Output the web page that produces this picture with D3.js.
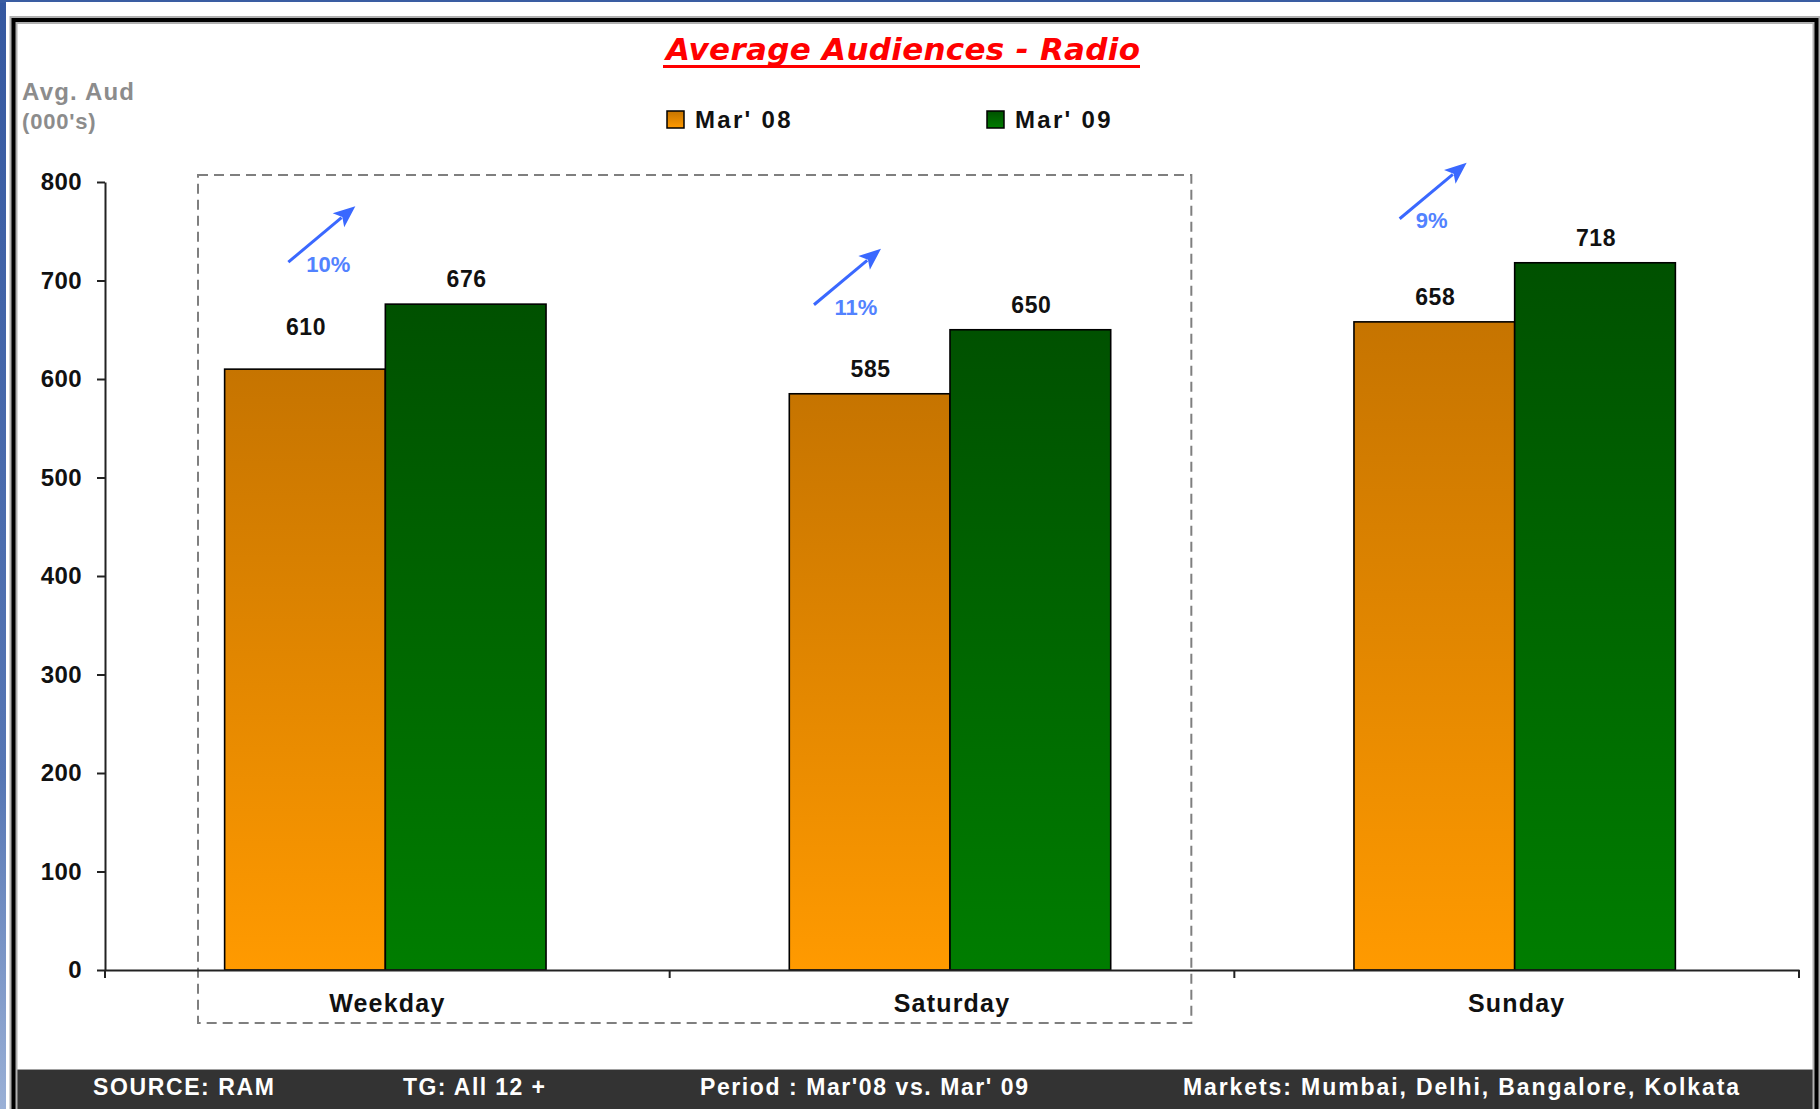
<!DOCTYPE html>
<html>
<head>
<meta charset="utf-8">
<script src="https://cdn.jsdelivr.net/npm/d3@7"></script>
<style>
  html, body { margin: 0; padding: 0; background: #ffffff; }
  svg { display: block; }
</style>
</head>
<body>
<svg id="chart" width="1820" height="1109"></svg>
<script>
// ---------------- data ----------------
const categories = ["Weekday", "Saturday", "Sunday"];
const seriesNames = ["Mar' 08", "Mar' 09"];
const mar08 = [610, 585, 658];
const mar09 = [676, 650, 718];
const growthLabels = ["10%", "11%", "9%"];
const yTicks = [0, 100, 200, 300, 400, 500, 600, 700, 800];
const titleText = "Average Audiences - Radio";
const yTitle = ["Avg. Aud", "(000's)"];
const footerNotes = ["SOURCE: RAM", "TG: All 12 +", "Period : Mar'08 vs. Mar' 09", "Markets: Mumbai, Delhi, Bangalore, Kolkata"];

// ---------------- layout / style ----------------
const W = 1820, H = 1109;
const plot = { left: 105, right: 1799, top: 182, bottom: 970 };
const FONT = "'Liberation Sans', Arial, sans-serif";
const arrowLayout = [ // offsets from group centre / Mar'09 bar top
  { sx: -99, sy: -42, lx: -59, ly: -40 },
  { sx: -138, sy: -25, lx: -96, ly: -22 },
  { sx: -117, sy: -44, lx: -85, ly: -42 }
];
const arrowVec = { dx: 67, dy: -56 };
const labelLift = { "Weekday|Mar' 08": 34 };
const footerLayout = [ { x: 93, w: 181 }, { x: 403, w: 142 }, { x: 700, w: 328 }, { x: 1183, w: 556 } ];

const svg = d3.select("#chart");
const defs = svg.append("defs");

function vGrad(id, stops) {
  const g = defs.append("linearGradient").attr("id", id)
    .attr("x1", 0).attr("y1", 0).attr("x2", 0).attr("y2", 1);
  stops.forEach(s => g.append("stop").attr("offset", s[0]).attr("stop-color", s[1]));
}
vGrad("gOrange", [[0, "#C67400"], [1, "#FF9A00"]]);
vGrad("gGreen", [[0, "#005100"], [1, "#007D00"]]);
vGrad("gBlue", [[0, "#3558A0"], [0.7, "#5676B4"], [1, "#9AB0D6"]]);
const seriesFill = { "Mar' 08": "url(#gOrange)", "Mar' 09": "url(#gGreen)" };

// ---------------- frame ----------------
svg.append("rect").attr("x", 0).attr("y", 0).attr("width", W).attr("height", H).attr("fill", "url(#gBlue)");
svg.append("rect").attr("x", 0).attr("y", 0).attr("width", W).attr("height", 3).attr("fill", "#3A5DA2");
svg.append("rect").attr("x", 6).attr("y", 2).attr("width", W - 6).attr("height", H - 2).attr("fill", "#ffffff");
// footer bar
svg.append("rect").attr("x", 14).attr("y", 1069).attr("width", 1802).attr("height", 40).attr("fill", "#333333");
svg.append("line").attr("x1", 14).attr("x2", 1816).attr("y1", 1069.5).attr("y2", 1069.5)
  .attr("stroke", "#a0a0a0").attr("stroke-width", 1);
// black border with soft shadow
const borderPath = `M13.5,${H} L13.5,20 L1816.5,20 L1816.5,${H}`;
svg.append("path").attr("d", borderPath).attr("fill", "none").attr("stroke", "#b0b0b0").attr("stroke-width", 8);
svg.append("path").attr("d", borderPath).attr("fill", "none").attr("stroke", "#000000").attr("stroke-width", 4);

// ---------------- scales ----------------
const y = d3.scaleLinear().domain([0, 800]).range([plot.bottom, plot.top]);
const x0 = d3.scaleBand().domain(categories).range([plot.left, plot.right]).padding(0);
const bw = x0.bandwidth();
const barW = bw * 0.2846;
const x1 = d3.scaleBand().domain(seriesNames).range([bw / 2 - barW - 2, bw / 2 + barW - 2]).padding(0);

const rows = categories.map((c, i) => ({ cat: c, values: [mar08[i], mar09[i]], growth: growthLabels[i] }));

// ---------------- dashed highlight box ----------------
const boxL = x0("Weekday") + 93, boxR = x0("Saturday") + bw - 43;
svg.append("rect")
  .attr("x", boxL).attr("y", plot.top - 7)
  .attr("width", boxR - boxL).attr("height", (plot.bottom + 53) - (plot.top - 7))
  .attr("fill", "none").attr("stroke", "#7f7f7f").attr("stroke-width", 2)
  .attr("stroke-dasharray", "10,6");

// ---------------- bars ----------------
const groups = svg.append("g").selectAll("g").data(rows).join("g")
  .attr("transform", d => `translate(${x0(d.cat)},0)`);
groups.selectAll("rect").data(d => d.values.map((v, j) => ({ cat: d.cat, s: seriesNames[j], v })))
  .join("rect")
  .attr("x", d => x1(d.s)).attr("width", x1.bandwidth())
  .attr("y", d => y(d.v)).attr("height", d => y(0) - y(d.v))
  .attr("fill", d => seriesFill[d.s])
  .attr("stroke", "#000").attr("stroke-width", 1.6);

groups.selectAll("text.val").data(d => d.values.map((v, j) => ({ cat: d.cat, s: seriesNames[j], v })))
  .join("text").attr("class", "val")
  .attr("x", d => x1(d.s) + x1.bandwidth() / 2 + 1)
  .attr("y", d => y(d.v) - (labelLift[d.cat + "|" + d.s] || 17))
  .attr("text-anchor", "middle")
  .attr("font-family", FONT).attr("font-weight", "bold").attr("font-size", 23)
  .attr("letter-spacing", 0.6).attr("fill", "#111")
  .text(d => d.v);

// ---------------- axes ----------------
const yAxis = svg.append("g").attr("transform", `translate(${plot.left},0)`)
  .call(d3.axisLeft(y).tickValues(yTicks).tickSize(8).tickSizeOuter(0).tickPadding(15));
yAxis.select(".domain").attr("stroke", "#222").attr("stroke-width", 2);
yAxis.selectAll(".tick line").attr("stroke", "#222").attr("stroke-width", 2);
yAxis.selectAll(".tick text").attr("font-family", FONT).attr("font-weight", "bold")
  .attr("font-size", 24).attr("letter-spacing", 0.4).attr("fill", "#111");

const xAxis = svg.append("g").attr("transform", `translate(0,${plot.bottom})`)
  .call(d3.axisBottom(x0).tickSize(0).tickSizeOuter(0).tickPadding(0));
xAxis.select(".domain").attr("stroke", "#222").attr("stroke-width", 2);
xAxis.selectAll(".tick text").attr("y", 42).attr("dy", 0)
  .attr("font-family", FONT).attr("font-weight", "bold").attr("font-size", 25)
  .attr("letter-spacing", 1.2).attr("fill", "#111");
// band boundary ticks
const bounds = categories.map(c => x0(c)).concat([x0(categories[categories.length - 1]) + bw]);
svg.append("g").selectAll("line").data(bounds).join("line")
  .attr("x1", d => d).attr("x2", d => d)
  .attr("y1", plot.bottom).attr("y2", plot.bottom + 8)
  .attr("stroke", "#222").attr("stroke-width", 2);

// ---------------- growth arrows ----------------
const arrowColor = "#3A68FF";
rows.forEach((d, i) => {
  const gc = x0(d.cat) + bw / 2;
  const top = y(d.values[1]);
  const L = arrowLayout[i];
  const sx = gc + L.sx, sy = top + L.sy;
  const ex = sx + arrowVec.dx, ey = sy + arrowVec.dy;
  const len = Math.hypot(arrowVec.dx, arrowVec.dy);
  const ux = arrowVec.dx / len, uy = arrowVec.dy / len;
  const headL = 22, headW = 9;
  const bx = ex - ux * headL, by = ey - uy * headL;
  svg.append("line").attr("x1", sx).attr("y1", sy).attr("x2", bx + ux * 4).attr("y2", by + uy * 4)
    .attr("stroke", arrowColor).attr("stroke-width", 3);
  svg.append("path")
    .attr("d", `M${ex},${ey} L${bx - uy * headW},${by + ux * headW} L${bx + ux * 5},${by + uy * 5} L${bx + uy * headW},${by - ux * headW} Z`)
    .attr("fill", arrowColor);
  svg.append("text").attr("x", gc + L.lx).attr("y", top + L.ly)
    .attr("text-anchor", "middle").attr("dominant-baseline", "central")
    .attr("font-family", FONT).attr("font-weight", "bold").attr("font-size", 22)
    .attr("fill", "#5282FF").text(d.growth);
});

// ---------------- title ----------------
const title = svg.append("text").attr("x", 903).attr("y", 60).attr("text-anchor", "middle")
  .attr("font-family", "'DejaVu Sans', Verdana, sans-serif").attr("font-weight", "bold")
  .attr("font-style", "italic").attr("font-size", 31).attr("fill", "#FF0000")
  .attr("textLength", 474).attr("lengthAdjust", "spacing")
  .text(titleText);
const tb = title.node().getBBox();
svg.append("line").attr("x1", tb.x).attr("x2", tb.x + tb.width).attr("y1", 66.5).attr("y2", 66.5)
  .attr("stroke", "#FF0000").attr("stroke-width", 3);

// ---------------- y title ----------------
svg.append("text").attr("x", 22).attr("y", 100)
  .attr("font-family", FONT).attr("font-weight", "bold").attr("font-size", 24)
  .attr("letter-spacing", 1.2).attr("fill", "#8C8C8C").text(yTitle[0]);
svg.append("text").attr("x", 22).attr("y", 129)
  .attr("font-family", FONT).attr("font-weight", "bold").attr("font-size", 22)
  .attr("letter-spacing", 0.8).attr("fill", "#8C8C8C").text(yTitle[1]);

// ---------------- legend ----------------
const legendX = [667, 987];
const legend = svg.append("g").selectAll("g").data(seriesNames).join("g")
  .attr("transform", (d, i) => `translate(${legendX[i]},111)`);
legend.append("rect").attr("width", 17).attr("height", 17)
  .attr("fill", d => seriesFill[d]).attr("stroke", "#000").attr("stroke-width", 1.5);
legend.append("text").attr("x", 28).attr("y", 17)
  .attr("font-family", FONT).attr("font-weight", "bold").attr("font-size", 24)
  .attr("letter-spacing", 2.3).attr("fill", "#111").text(d => d);

// ---------------- footer ----------------
svg.append("g").selectAll("text").data(footerNotes).join("text")
  .attr("x", (d, i) => footerLayout[i].x).attr("y", 1095)
  .attr("textLength", (d, i) => footerLayout[i].w).attr("lengthAdjust", "spacing")
  .attr("font-family", FONT).attr("font-weight", "bold").attr("font-size", 23)
  .attr("fill", "#ffffff").text(d => d);
</script>
</body>
</html>
